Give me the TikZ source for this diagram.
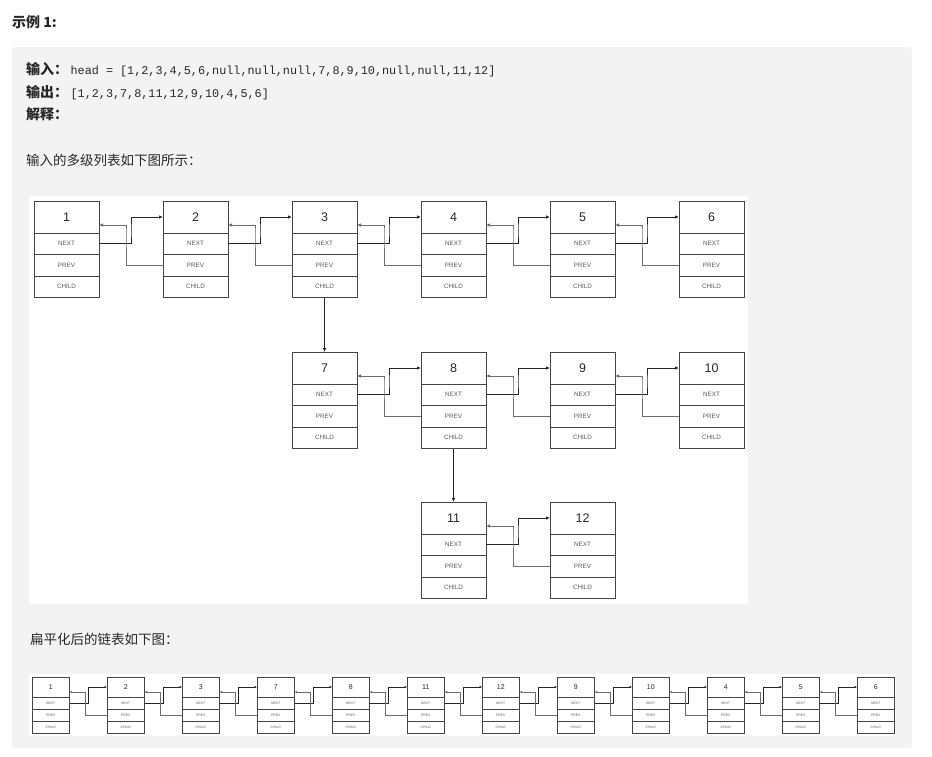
\documentclass[tikz,border=0pt]{standalone}
\usepackage{fontspec}
\setmainfont{Liberation Sans}
\setmonofont{Liberation Mono}
\newfontfamily\cjk{Noto Sans CJK SC}
\usetikzlibrary{arrows.meta,positioning,calc}
\definecolor{pagegray}{RGB}{243,243,243}
\definecolor{boxline}{RGB}{70,70,70}
\definecolor{prevline}{RGB}{110,110,110}
\definecolor{inktext}{RGB}{40,40,40}
\tikzset{
  head/.style={draw=boxline,fill=white,line width=0.8pt,minimum width=65pt,minimum height=32pt,inner sep=0pt,outer sep=0pt,text=inktext,font=\fontsize{12.5}{12.5}\selectfont},
  field/.style={head,minimum height=21.5pt,text=black!65,font=\fontsize{6.3}{6.3}\selectfont},
  shead/.style={head,minimum width=37.5pt,minimum height=20pt,font=\fontsize{7}{7}\selectfont},
  sfield/.style={field,minimum width=37.5pt,minimum height=12pt,font=\fontsize{3.4}{3.4}\selectfont},
  nxt/.style={-{Latex[length=4pt,width=3.5pt]},draw=black!85,line width=0.8pt},
  prv/.style={nxt,draw=prevline},
  snxt/.style={nxt,line width=0.6pt,-{Latex[length=2.5pt,width=2.5pt]}},
  sprv/.style={snxt,draw=prevline},
  txt/.style={inner sep=0pt,anchor=base west,text=inktext,font=\cjk\fontsize{13.5}{13.5}\selectfont},
  btxt/.style={txt,font=\cjk\bfseries\fontsize{14}{14}\selectfont},
  code/.style={txt,font=\ttfamily\fontsize{11.8}{11.8}\selectfont},
}
\begin{document}
\begin{tikzpicture}[x=1pt,y=-1pt]
  \useasboundingbox (0,0) rectangle (932,756);
  \fill[pagegray,rounded corners=3pt] (12,47) rectangle (912,748);
  \fill[white] (29,196) rectangle (748,604);
  \fill[white] (29,674) rectangle (896,736);

  % text above the pictures
  \node[btxt] (title) at (12,27) {示例 1:};
  \node[btxt] (inlbl) at (26,74) {输入：};
  \node[code] (incode) at ([xshift=2pt]inlbl.base east) {head = [1,2,3,4,5,6,null,null,null,7,8,9,10,null,null,11,12]};
  \node[btxt] (outlbl) at (26,97) {输出：};
  \node[code] (outcode) at ([xshift=2pt]outlbl.base east) {[1,2,3,7,8,11,12,9,10,4,5,6]};
  \node[btxt] (explbl) at (26,119) {解释：};
  \node[txt] (multi) at (26,165) {输入的多级列表如下图所示：};
  \node[txt] (flat) at (30,644) {扁平化后的链表如下图：};

  % multilevel list
  \foreach \n/\x/\y in {1/34/201,2/163/201,3/292/201,4/421/201,5/550/201,6/679/201,
                        7/292/352,8/421/352,9/550/352,10/679/352,11/421/502,12/550/502}{
    \node[head,anchor=north west] (h\n) at (\x,\y) {\n};
    \node[field,below=0pt of h\n] (nx\n) {NEXT};
    \node[field,below=0pt of nx\n] (pv\n) {PREV};
    \node[field,below=0pt of pv\n] (ch\n) {CHILD};
  }
  \foreach \a/\b in {1/2,2/3,3/4,4/5,5/6,7/8,8/9,9/10,11/12}{
    \draw[nxt] (nx\a.east) -| ($(nx\a.east)!.5!(h\b.west)$) |- (h\b.west);
    \draw[prv] (pv\b.west) -| ([xshift=-5pt]$(nx\a.east)!.5!(h\b.west)$) |- ([yshift=-8pt]h\a.east);
  }
  \draw[nxt] (ch3) -- (h7);
  \draw[nxt] (ch8) -- (h11);

  % flattened list
  \foreach \v [count=\i] in {1,2,3,7,8,11,12,9,10,4,5,6}{
    \node[shead,anchor=north west] (bh\i) at ({32+75*(\i-1)},677) {\v};
    \node[sfield,below=0pt of bh\i] (bn\i) {NEXT};
    \node[sfield,below=0pt of bn\i] (bp\i) {PREV};
    \node[sfield,below=0pt of bp\i] (bc\i) {CHILD};
  }
  \foreach \i [evaluate=\i as \j using int(\i+1)] in {1,...,11}{
    \draw[snxt] (bn\i.east) -| ($(bn\i.east)!.5!(bh\j.west)$) |- (bh\j.west);
    \draw[sprv] (bp\j.west) -| ([xshift=-2.5pt]$(bn\i.east)!.5!(bh\j.west)$) |- ([yshift=-5pt]bh\i.east);
  }
\end{tikzpicture}
\end{document}
